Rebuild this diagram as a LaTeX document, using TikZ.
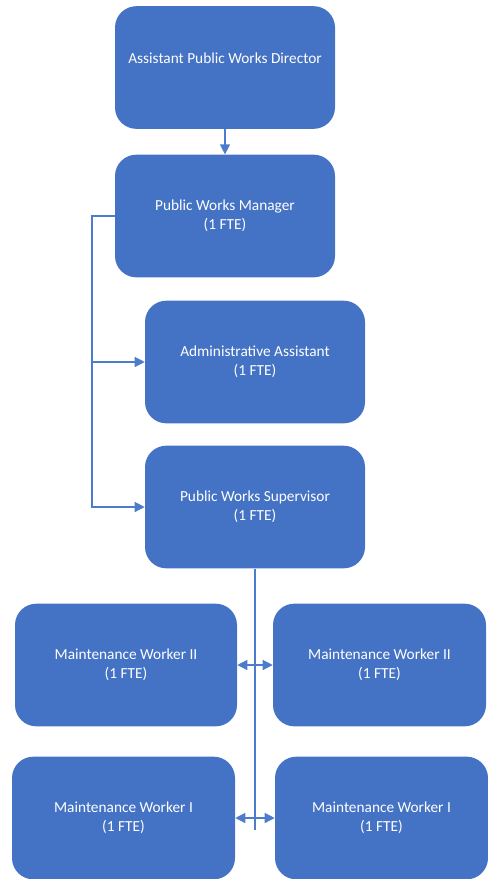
\documentclass[tikz,border=0pt]{standalone}
\usepackage{fontspec}
\setmainfont{Carlito}
\usetikzlibrary{arrows.meta}
\definecolor{boxblue}{RGB}{68,114,196}
\definecolor{linkblue}{RGB}{78,124,204}
\tikzset{
  orgbox/.style={rectangle, rounded corners=16pt, fill=boxblue, text=white,
    minimum width=165pt, minimum height=92pt, align=center, inner sep=0pt,
    font=\fontsize{11.5}{14.25}\selectfont},
  link/.style={draw=linkblue, line width=0.9pt},
  tip/.style={-{Triangle[width=7.5pt,length=7.5pt]}},
  dtip/.style={{Triangle[width=7.5pt,length=7.5pt]}-{Triangle[width=7.5pt,length=7.5pt]}}
}
\begin{document}
\begin{tikzpicture}[x=0.75pt,y=0.75pt,yscale=-1,xscale=1]
	\useasboundingbox (0,0) rectangle (488,879);
	
	% Boxes
	\node [orgbox] (dir) at (225,67.5) {Assistant Public Works Director\\ \mbox{}};
	\node [orgbox] (mgr) at (225,216) {Public Works Manager\\(1 FTE)};
	\node [orgbox] (admin) at (255,362) {Administrative Assistant\\(1 FTE)};
	\node [orgbox] (sup) at (255,507) {Public Works Supervisor\\(1 FTE)};
	\node [orgbox, minimum width=166.5pt] (mwtwoL) at (126,665) {Maintenance Worker II\\(1 FTE)};
	\node [orgbox, minimum width=159.75pt] (mwtwoR) at (379.5,665) {Maintenance Worker II\\(1 FTE)};
	\node [orgbox, minimum width=167.25pt] (mwoneL) at (123.5,818) {Maintenance Worker I\\(1 FTE)};
	\node [orgbox, minimum width=159.75pt] (mwoneR) at (381.5,818) {Maintenance Worker I\\(1 FTE)};
	
	% Connectors
	\coordinate (spine) at (92,216);
	\coordinate (trunk) at (255,830);
	\draw [link, tip] (dir.south) -- (mgr.north);
	\draw [link, tip] (mgr.west) -- (spine) |- (sup.west);
	\draw [link, tip] (spine |- admin.west) -- (admin.west);
	\draw [link] (sup.south) -- (trunk);
	\draw [link, dtip] (mwtwoL.east) -- (mwtwoR.west);
	\draw [link, dtip] (mwoneL.east) -- (mwoneR.west);
	
\end{tikzpicture}
\end{document}
